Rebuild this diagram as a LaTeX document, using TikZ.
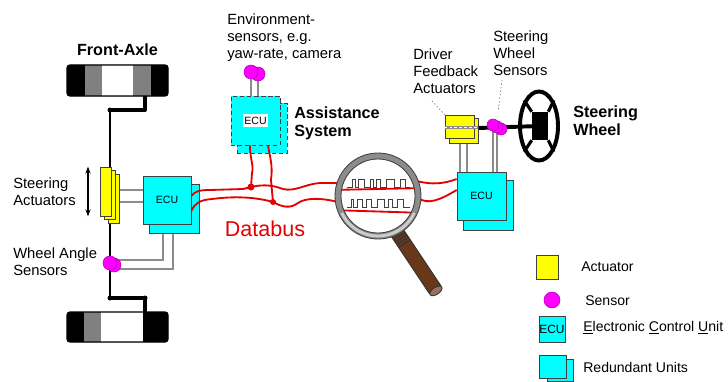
\documentclass[tikz,border=0pt]{standalone}
\usepackage{fontspec}
\setmainfont{Liberation Sans}
\usetikzlibrary{arrows.meta, shapes.geometric, calc, backgrounds}

\definecolor{ecucyan}{RGB}{0,255,255}
\definecolor{actyellow}{RGB}{255,255,0}
\definecolor{senmagenta}{RGB}{255,0,255}
\definecolor{busred}{RGB}{228,0,0}
\definecolor{handlebrown}{RGB}{105,55,25}

\begin{document}
\begin{tikzpicture}[
    x=0.025cm, y=-0.025cm,
    every node/.style={font=\fontsize{10.5}{11.8}\selectfont, inner sep=0pt},
    txt/.style={align=left, anchor=north west},
    heading/.style={txt, font=\fontsize{11.5}{13}\selectfont\bfseries},
    ecu/.style={rectangle, draw=black!75, fill=ecucyan, line width=0.5pt,
                font=\fontsize{7.5}{9}\selectfont},
    actuator/.style={rectangle, draw=black!75, fill=actyellow, line width=0.5pt},
    sensor/.style={circle, draw=senmagenta!70!black, fill=senmagenta, line width=0.4pt},
    rod/.style={line width=2.8pt, line cap=round, line join=round},
    shaft/.style={line width=1.8pt},
    wire/.style={black!45, line width=1.1pt},
    bus/.style={busred, line width=1.3pt},
    leader/.style={black!50, line width=0.5pt, dash pattern=on 1pt off 1.5pt},
    arrow/.style={{Stealth[length=5pt]}-{Stealth[length=5pt]}, line width=0.8pt}
]
\useasboundingbox (0,0) rectangle (728,381);

% front axle wheels
\fill[rounded corners=2pt] (67,65) rectangle (168,96);
\fill[black!50] (85,65) rectangle (102,96);
\fill[white] (102,65) rectangle (133,96);
\fill[black!50] (133,65) rectangle (151,96);
\draw[line width=0.8pt, rounded corners=2pt] (67,65) rectangle (168,96);

\fill[rounded corners=2pt] (67,312) rectangle (168,342);
\fill[black!50] (84,312) rectangle (101,342);
\fill[white] (101,312) rectangle (143,342);
\draw[line width=0.8pt, rounded corners=2pt] (67,312) rectangle (168,342);

\coordinate (hubT) at (145,96);
\coordinate (hubB) at (145,312);

% steering actuators and wheel angle sensors
\node[actuator, minimum width=0.275cm, minimum height=1.225cm] (act3) at (114,198.5) {};
\node[actuator, minimum width=0.275cm, minimum height=1.225cm] (act2) at (110,195) {};
\node[actuator, minimum width=0.275cm, minimum height=1.225cm] (act1) at (106,191.5) {};
\node[sensor, minimum size=0.35cm] (was2) at (114,265) {};
\node[sensor, minimum size=0.35cm] (was1) at (110,263) {};

% ECUs
\node[ecu, minimum width=1.25cm, minimum height=1.225cm] (ecuLb) at (174,208.5) {};
\node[ecu, minimum size=1.2cm] (ecuL) at (167,200) {ECU};

\node[ecu, densely dashed, minimum size=1.25cm] (asB) at (262,128) {};
\node[ecu, densely dashed, minimum size=1.225cm] (as) at (255.5,120.5) {};
\node[fill=white, inner xsep=1pt, inner ysep=2pt, font=\fontsize{7.5}{9}\selectfont] (asEcu) at (as) {ECU};
\node[sensor, minimum size=0.35cm] (es2) at (258,74) {};
\node[sensor, minimum size=0.35cm] (es1) at (251,72) {};

\node[ecu, minimum size=1.25cm] (ecuRb) at (488.5,205) {};
\node[ecu, minimum width=1.225cm, minimum height=1.2cm] (ecuR) at (481.5,196) {ECU};

% steering column
\node[actuator, minimum width=0.725cm, minimum height=0.625cm] (dfaB) at (463.5,130.5) {};
\node[actuator, minimum width=0.725cm, minimum height=0.575cm] (dfa) at (459.5,126.5) {};
\draw[black!45, line width=1.5pt] (dfa.west |- 0,127.5) -- (dfaB.east |- 0,127.5);
\draw[white, line width=0.5pt, dash pattern=on 2pt off 1.5pt] (dfa.west |- 0,127.5) -- (dfaB.east |- 0,127.5);

\node[sensor, minimum size=0.3cm] (sws3) at (501,129) {};
\node[sensor, minimum size=0.3cm] (sws2) at (497,127) {};
\node[sensor, minimum size=0.3cm] (sws1) at (493,125) {};

\node[draw, ellipse, line width=2.8pt, minimum width=0.95cm, minimum height=1.725cm] (sw) at (539,126) {};
\node[fill=black, minimum width=0.4cm, minimum height=0.7cm] (swHub) at (540,126) {};
\draw[line width=2.2pt] (swHub.north west) -- (sw.120);
\draw[line width=2.2pt] (swHub.north east) -- (sw.60);
\draw[line width=2.2pt] (swHub.south west) -- (sw.240);
\draw[line width=2.2pt] (swHub.south east) -- (sw.300);

\begin{scope}[on background layer]
  \fill[white] (0,0) rectangle (728,381);
  % tie rods
  \draw[rod] (hubT) -- (145,110) -- (110,110);
  \draw[shaft] (110,110) -- (act1.north -| 110,0);
  \draw[shaft] (act1.south -| 110,0) -- (110,298);
  \draw[rod] (110,298) -- (145,298) -- (hubB);
  \fill (hubT) circle (2.5) (110,110) circle (2.5) (110,298) circle (2.5) (145,298) circle (2.5);
  % signal wires
  \draw[wire] (act3.east |- 0,190) -- (ecuL.west |- 0,190);
  \draw[wire] (act3.east |- 0,202) -- (ecuL.west |- 0,202);
  \draw[wire] (was1.center |- 0,260) -| (ecuL.south -| 163,0);
  \draw[wire] (was1.center |- 0,269) -| (ecuLb.south -| 173,0);
  \draw[wire] (es1.center) -- (as.north -| es1.center);
  \draw[wire] (es2.center) -- (as.north -| es2.center);
  \draw[wire] (dfaB.south -| 460,0) -- (ecuR.north -| 460,0);
  \draw[wire] (dfaB.south -| 467,0) -- (ecuR.north -| 467,0);
  \draw[wire] (sws1.center) -- (ecuR.north -| sws1.center);
  \draw[wire] (sws2.center) -- (ecuR.north -| sws2.center);
  \draw[rod, line cap=butt] (dfaB.east |- 0,128) -- (swHub.center);
  % leaders
  \coordinate (dfaTip) at (432,101);
  \coordinate (swsTip) at (502,80);
  \draw[leader] (dfaTip) -- (dfa.north west);
  \draw[leader, shorten >=0.25cm] (swsTip) -- (sws2.north);
\end{scope}

\draw[arrow] (act1.north -| 88,0) -- (act1.south -| 88,0);

% databus
\coordinate (busJ1) at (251,187);
\coordinate (busJ2) at (273,202);
\draw[bus] (ecuL.east |- 0,196) .. controls (195,191) and (200,190) .. (210,190)
    -- (243,189) -- (busJ1) .. controls (260,185) and (270,184) .. (283,189)
    .. controls (295,192) and (305,184) .. (320,183) -- (342,183);
\draw[bus] (ecuL.east |- 0,211) .. controls (195,203) and (200,200) .. (212,199)
    .. controls (235,196) and (255,197) .. (busJ2) .. controls (282,207) and (290,209) .. (298,203)
    .. controls (305,198) and (320,197) .. (342,203);
\draw[bus] (as.south -| 250,0) .. controls (250,160) and (254,165) .. (252,173) -- (busJ1);
\draw[bus] (as.south -| 268,0) .. controls (270,158) and (273,165) .. (271,180) -- (busJ2);
\fill[busred] (busJ1) circle (3.5);
\fill[busred] (busJ2) circle (3);
\draw[bus] (416,181) .. controls (426,183) and (438,186) .. (ecuR.west |- 0,179);
\draw[bus] (418,198) .. controls (428,205) and (440,200) .. (ecuR.west |- 0,190);

% magnifier
\coordinate (lens) at (378,196);
\begin{scope}[shift={(396,231)}, rotate=-56.3]
  \draw[black!80, fill=handlebrown, line width=0.6pt, rounded corners=1pt] (-6,-7) rectangle (72,7);
  \foreach \g in {6,9,12,15}
    \draw[black!80, line width=0.8pt] (\g,-7) -- (\g,7);
  \draw[black!80, fill=handlebrown!70!white, line width=0.6pt] (72,0) ellipse [x radius=3.5, y radius=7];
\end{scope}
\fill[white] (lens) circle (38);
\begin{scope}
  \clip (lens) circle (38);
  \draw[bus] (330,190) -- (426,188);
  \draw[bus] (330,210) -- (426,213);
\end{scope}
\draw[black!75, line width=0.6pt] (347,187)
  \foreach \a/\b in {352/355, 358/364, 370/373, 376/380, 386/394, 400/405} {
    -- (\a,187) -- (\a,179) -- (\b,179) -- (\b,187) } -- (410,187);
\draw[black!75, line width=0.6pt] (347,207)
  \foreach \a/\b in {351/353, 357/362, 366/371, 377/384, 388/392, 397/403} {
    -- (\a,207) -- (\a,199) -- (\b,199) -- (\b,207) } -- (410,207);
\draw[black!75, fill=black!45, even odd rule, line width=0.6pt] (lens) circle (43) (lens) circle (37);
\draw[black!20, line width=2pt] ([shift={(25:40)}]lens) arc[start angle=25, end angle=155, radius=40];

% labels
\node[heading, anchor=center] (axleTxt) at (117.5,50) {Front-Axle};
\node[txt] (actTxt) at (13,178) {Steering\\Actuators};
\node[txt] (wasTxt) at (13,248) {Wheel Angle\\Sensors};
\node[txt] (envTxt) at (227,14) {Environment-\\sensors, e.g.\\yaw-rate, camera};
\node[heading] (asTxt) at (294,106) {Assistance\\System};
\node[txt] (dfaTxt) at (413,49) {Driver\\Feedback\\Actuators};
\node[txt] (swsTxt) at (493,31) {Steering\\Wheel\\Sensors};
\node[heading] (swTxt) at (573,105) {Steering\\Wheel};
\node[text=busred, font=\fontsize{15.3}{17}\selectfont] (busTxt) at (265,229) {Databus};

% legend
\node[actuator, minimum width=0.55cm, minimum height=0.6cm] (legAct) at (547,267) {};
\node[anchor=west, font=\fontsize{10}{12}\selectfont] (legActTxt) at (581,267) {Actuator};
\node[sensor, minimum size=0.4cm] (legSen) at (552,300) {};
\node[anchor=west, font=\fontsize{10}{12}\selectfont] (legSenTxt) at (585,301) {Sensor};
\node[ecu, minimum size=0.65cm, font=\fontsize{8.5}{10}\selectfont] (legEcu) at (552,329) {ECU};
\node[anchor=west, font=\fontsize{10}{12}\selectfont] (legEcuTxt) at (583,328)
    {\underline{E}lectronic \underline{C}ontrol \underline{U}nit};
\node[ecu, minimum width=0.65cm, minimum height=0.55cm] (legRedB) at (560,370) {};
\node[ecu, minimum width=0.675cm, minimum height=0.575cm] (legRed) at (552.5,366.5) {};
\node[anchor=west, font=\fontsize{10}{12}\selectfont] (legRedTxt) at (583,367) {Redundant Units};
\end{tikzpicture}
\end{document}
